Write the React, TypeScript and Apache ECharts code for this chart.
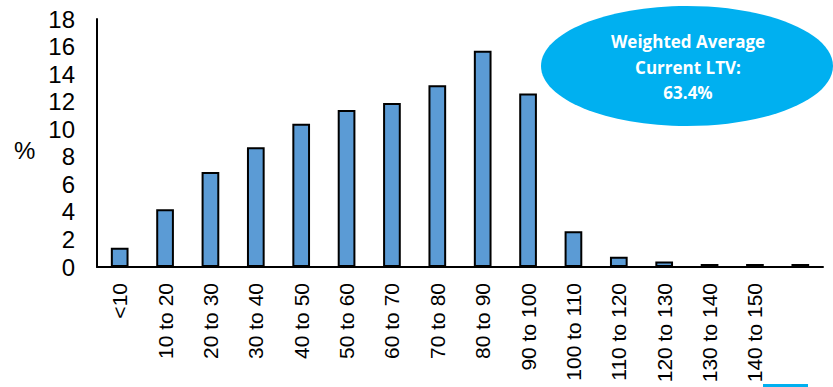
import React, { useEffect, useRef } from "react";
import * as echarts from "echarts";

const categories = ["<10", "10 to 20", "20 to 30", "30 to 40", "40 to 50", "50 to 60", "60 to 70", "70 to 80", "80 to 90", "90 to 100", "100 to 110", "110 to 120", "120 to 130", "130 to 140", "140 to 150", ""];
const values = [1.4, 4.2, 6.9, 8.7, 10.4, 11.4, 11.9, 13.2, 15.7, 12.6, 2.6, 0.75, 0.4, 0.22, 0.22, 0.22];
const yTicks = [0, 2, 4, 6, 8, 10, 12, 14, 16, 18];
const calloutLines = ["Weighted Average", "Current LTV:", "63.4%"];

export default function App() {
  const ref = useRef<HTMLDivElement>(null);
  useEffect(() => {
    document.body.style.margin = "0";
    const chart = echarts.init(ref.current!, undefined, { renderer: "svg" });
    chart.setOption({
      animation: false,
      grid: { left: 97, top: 19, right: 10, bottom: 120, containLabel: false },
      xAxis: {
        type: "category",
        data: categories,
        axisLine: { lineStyle: { color: "#000", width: 2 } },
        axisTick: { show: false },
        axisLabel: {
          rotate: 90,
          interval: 0,
          margin: 16,
          fontSize: 21,
          color: "#000",
          fontFamily: "Liberation Sans",
        },
      },
      yAxis: {
        type: "value",
        min: yTicks[0],
        max: yTicks[yTicks.length - 1],
        interval: 2,
        splitLine: { show: false },
        axisLine: { show: true, lineStyle: { color: "#000", width: 2 } },
        axisTick: { show: false },
        axisLabel: {
          fontSize: 24,
          color: "#000",
          margin: 22,
          fontFamily: "Liberation Sans",
        },
      },
      series: [
        {
          type: "bar",
          data: values,
          barWidth: "39%",
          itemStyle: { color: "#5B9BD5", borderColor: "#000", borderWidth: 2 },
        },
      ],
      graphic: [
        {
          type: "text",
          left: 14,
          top: 138,
          style: { text: "%", fontSize: 24, fill: "#000", fontFamily: "Liberation Sans" },
        },
        {
          type: "ellipse",
          shape: { cx: 687, cy: 66, rx: 146, ry: 60 },
          style: { fill: "#00B0F0" },
          z: 10,
        },
        {
          type: "text",
          x: 688,
          y: 67,
          z: 11,
          style: {
            text: calloutLines.join("\n"),
            align: "center",
            verticalAlign: "middle",
            fill: "#fff",
            fontSize: 17,
            fontWeight: "bold",
            lineHeight: 25.5,
            fontFamily: "Open Sans",
          },
        },
        {
          type: "rect",
          shape: { x: 763, y: 384, width: 45, height: 4 },
          style: { fill: "#00B0F0" },
        },
      ],
    });
    return () => chart.dispose();
  }, []);
  return <div ref={ref} style={{ width: 833, height: 387 }} />;
}
